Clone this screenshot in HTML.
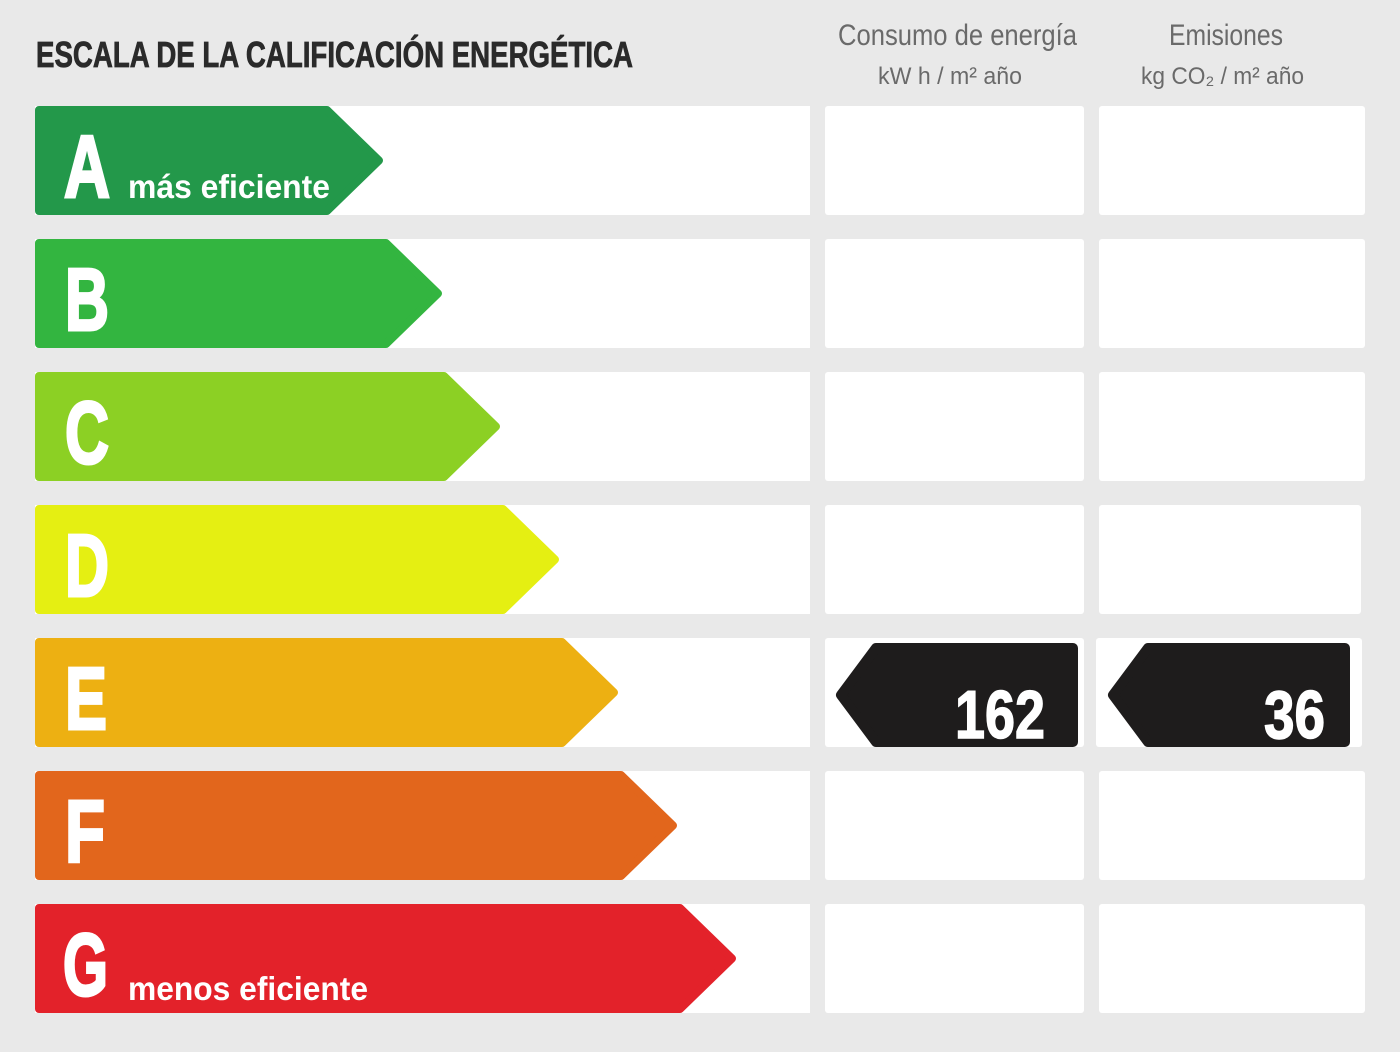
<!DOCTYPE html>
<html><head><meta charset="utf-8"><style>
html,body{margin:0;padding:0;background:#e9e9e9;}
svg{display:block;}
text{font-family:"Liberation Sans",sans-serif;}
</style></head><body>
<svg width="1400" height="1052" viewBox="0 0 1400 1052" xmlns="http://www.w3.org/2000/svg">
<rect x="0" y="0" width="1400" height="1052" fill="#e9e9e9"/>
<text x="36" y="67" font-size="36" font-weight="bold" fill="#2a2a2a" stroke="#2a2a2a" stroke-width="0.8" textLength="597" lengthAdjust="spacingAndGlyphs">ESCALA DE LA CALIFICACIÓN ENERGÉTICA</text>
<text x="838" y="45" font-size="30" fill="#6a6a6a" textLength="239" lengthAdjust="spacingAndGlyphs">Consumo de energía</text>
<text x="878" y="84" font-size="24" fill="#6a6a6a" textLength="144" lengthAdjust="spacingAndGlyphs">kW h / m² año</text>
<text x="1169" y="45" font-size="30" fill="#6a6a6a" textLength="114" lengthAdjust="spacingAndGlyphs">Emisiones</text>
<text x="1141" y="84" font-size="24" fill="#6a6a6a" textLength="163" lengthAdjust="spacingAndGlyphs">kg CO₂ / m² año</text>
<g fill="#ffffff">
<rect x="35" y="106" width="775" height="109"/><rect x="825" y="106" width="259" height="109" rx="3"/><rect x="1099" y="106" width="266" height="109" rx="3"/>
<rect x="35" y="239" width="775" height="109"/><rect x="825" y="239" width="259" height="109" rx="3"/><rect x="1099" y="239" width="266" height="109" rx="3"/>
<rect x="35" y="372" width="775" height="109"/><rect x="825" y="372" width="259" height="109" rx="3"/><rect x="1099" y="372" width="266" height="109" rx="3"/>
<rect x="35" y="505" width="775" height="109"/><rect x="825" y="505" width="259" height="109" rx="3"/><rect x="1099" y="505" width="262" height="109" rx="3"/>
<rect x="35" y="638" width="775" height="109"/><rect x="825" y="638" width="259" height="109" rx="3"/><rect x="1096" y="638" width="266" height="109" rx="3"/>
<rect x="35" y="771" width="775" height="109"/><rect x="825" y="771" width="259" height="109" rx="3"/><rect x="1099" y="771" width="266" height="109" rx="3"/>
<rect x="35" y="904" width="775" height="109"/><rect x="825" y="904" width="259" height="109" rx="3"/><rect x="1099" y="904" width="266" height="109" rx="3"/>
</g>
<g stroke-width="8" stroke-linejoin="round">
<path d="M39 110 L327 110 L379 160.5 L327 211 L39 211 Z" fill="#23984a" stroke="#23984a"/>
<path d="M39 243 L386 243 L438 293.5 L386 344 L39 344 Z" fill="#33b540" stroke="#33b540"/>
<path d="M39 376 L444 376 L496 426.5 L444 477 L39 477 Z" fill="#8cd024" stroke="#8cd024"/>
<path d="M39 509 L503 509 L555 559.5 L503 610 L39 610 Z" fill="#e5ef12" stroke="#e5ef12"/>
<path d="M39 642 L562 642 L614 692.5 L562 743 L39 743 Z" fill="#edb012" stroke="#edb012"/>
<path d="M39 775 L621 775 L673 825.5 L621 876 L39 876 Z" fill="#e2661c" stroke="#e2661c"/>
<path d="M39 908 L680 908 L732 958.5 L680 1009 L39 1009 Z" fill="#e3222a" stroke="#e3222a"/>
</g>
<g fill="#ffffff" stroke="#ffffff" stroke-width="3" font-weight="bold" font-size="88">
<text x="64" y="197" textLength="46" lengthAdjust="spacingAndGlyphs">A</text>
<text x="65" y="330" textLength="44" lengthAdjust="spacingAndGlyphs">B</text>
<text x="65" y="463" textLength="44" lengthAdjust="spacingAndGlyphs">C</text>
<text x="65" y="596" textLength="44" lengthAdjust="spacingAndGlyphs">D</text>
<text x="65" y="729" textLength="42" lengthAdjust="spacingAndGlyphs">E</text>
<text x="65" y="862" textLength="40" lengthAdjust="spacingAndGlyphs">F</text>
<text x="63" y="995" textLength="45" lengthAdjust="spacingAndGlyphs">G</text>
</g>
<text x="128" y="198" font-size="33" font-weight="bold" fill="#ffffff" textLength="202" lengthAdjust="spacingAndGlyphs">más eficiente</text>
<text x="128" y="1000" font-size="33" font-weight="bold" fill="#ffffff" textLength="240" lengthAdjust="spacingAndGlyphs">menos eficiente</text>
<g fill="#1e1c1c" stroke="#1e1c1c" stroke-width="10" stroke-linejoin="round">
<path d="M876 648 L1073 648 L1073 742 L876 742 L841 695 Z"/>
<path d="M1148 648 L1345 648 L1345 742 L1148 742 L1113 695 Z"/>
</g>
<g fill="#ffffff" stroke="#ffffff" stroke-width="1.5" font-size="68" font-weight="bold">
<text x="955" y="738" textLength="90" lengthAdjust="spacingAndGlyphs">162</text>
<text x="1264" y="738" textLength="61" lengthAdjust="spacingAndGlyphs">36</text>
</g>
</svg>
</body></html>
